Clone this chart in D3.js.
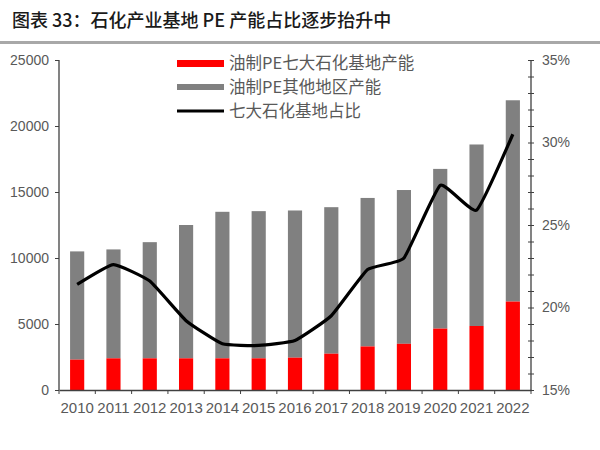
<!DOCTYPE html>
<html><head><meta charset="utf-8">
<script src="https://cdn.jsdelivr.net/npm/d3@7"></script>
<style>body{margin:0;background:#fff}svg{display:block}</style>
</head><body><svg id="c" width="600" height="450"></svg>
<script>
const years = ["2010","2011","2012","2013","2014","2015","2016","2017","2018","2019","2020","2021","2022"];
const baseCap = [2300,2400,2400,2400,2400,2400,2450,2750,3300,3500,4650,4850,6700];
const totalCap = [10500,10650,11200,12500,13500,13550,13600,13850,14550,15150,16750,18600,21950];
const share = [21.4,22.6,21.6,19.2,17.8,17.7,18.0,19.5,22.3,23.0,27.4,25.9,30.5];
const leftTicks = [0,5000,10000,15000,20000,25000];
const rightTicks = [15,20,25,30,35];
const legendLabels = ["油制PE七大石化基地产能","油制PE其他地区产能","七大石化基地占比"];
const titleText = "图表 33：石化产业基地 PE 产能占比逐步抬升中";

const svg = d3.select("#c");
const L = 59, R = 531, T = 60, B = 390;
const x = d3.scaleBand().domain(years).range([L, R]).paddingInner(0.61).paddingOuter(0.305);
const y = d3.scaleLinear().domain([0,25000]).range([B, T]);
const y2 = d3.scaleLinear().domain([15,35]).range([B, T]);
const cjk = "'Noto Sans CJK SC','Noto Sans',sans-serif";
const lat = "'Liberation Sans',Arial,sans-serif";

svg.append("text").attr("x",12).attr("y",27).attr("font-family",cjk).attr("font-size",18)
  .attr("font-weight",500).attr("fill","#1a1a1a").text(titleText);
svg.append("rect").attr("x",0).attr("y",41).attr("width",600).attr("height",3).attr("fill","#a8a8a8");

// bars
svg.append("g").selectAll("rect").data(years).join("rect")
  .attr("x",d=>x(d)).attr("width",x.bandwidth())
  .attr("y",(d,i)=>y(totalCap[i])).attr("height",(d,i)=>y(baseCap[i])-y(totalCap[i]))
  .attr("fill","#808080");
svg.append("g").selectAll("rect").data(years).join("rect")
  .attr("x",d=>x(d)).attr("width",x.bandwidth())
  .attr("y",(d,i)=>y(baseCap[i])).attr("height",(d,i)=>y(0)-y(baseCap[i]))
  .attr("fill","#ff0000");

// line
const line = d3.line().x((d,i)=>x(years[i])+x.bandwidth()/2).y(d=>y2(d)).curve(d3.curveCardinal.tension(0.6));
svg.append("path").datum(share).attr("d",line).attr("fill","none").attr("stroke","#000").attr("stroke-width",3.2).attr("stroke-linejoin","round");

// axes
const axCol = "#404040";
const gl = svg.append("g").attr("transform",`translate(${L},0)`)
  .call(d3.axisLeft(y).tickValues(leftTicks).tickSize(4).tickPadding(6).tickFormat(d3.format("d")));
const gr = svg.append("g").attr("transform",`translate(${R},0)`)
  .call(d3.axisRight(y2).tickValues(d3.range(15,36,1)).tickSize(3).tickPadding(8)
    .tickFormat(d=>rightTicks.includes(d)?d+"%":""));
gr.selectAll(".tick line").attr("x1",-3).attr("x2",3);
const gx = svg.append("g").attr("transform",`translate(0,${B})`)
  .call(d3.axisBottom(x).tickSize(0).tickPadding(12));
svg.append("g").selectAll("line").data(d3.range(years.length+1)).join("line")
  .attr("x1",i=>L+i*(R-L)/years.length).attr("x2",i=>L+i*(R-L)/years.length)
  .attr("y1",B).attr("y2",B+4).attr("stroke",axCol);
[gl,gr,gx].forEach(g=>{
  g.selectAll(".domain").attr("stroke",axCol).attr("stroke-width",1.3);
  g.selectAll(".tick line").attr("stroke",axCol);
  g.selectAll("text").attr("fill","#595959").attr("font-family",lat);
});
gl.selectAll("text").attr("font-size",14);
gr.selectAll("text").attr("font-size",14);
gx.selectAll("text").attr("font-size",15);
gl.select(".domain").attr("d",`M0,${T}V${B}`);
gr.select(".domain").attr("d",`M0,${T}V${B}`);

// legend
const lg = svg.append("g");
const ly = [63.5,87,111];
lg.append("rect").attr("x",177).attr("y",ly[0]-3.5).attr("width",47).attr("height",7).attr("fill","#ff0000");
lg.append("rect").attr("x",177).attr("y",ly[1]-3).attr("width",47).attr("height",6).attr("fill","#808080");
lg.append("line").attr("x1",177).attr("x2",224).attr("y1",ly[2]).attr("y2",ly[2]).attr("stroke","#000").attr("stroke-width",3);
lg.selectAll("text").data(legendLabels).join("text")
  .attr("x",229).attr("y",(d,i)=>ly[i]).attr("dy","0.36em")
  .attr("font-family",cjk).attr("font-size",16.5).attr("fill","#595959").text(d=>d);
</script></body></html>
